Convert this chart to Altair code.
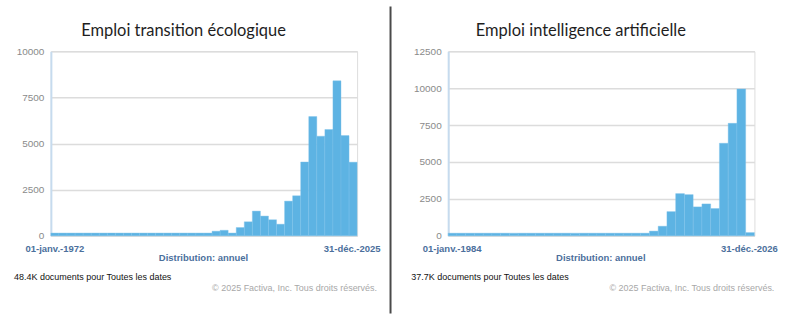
import altair as alt
import pandas as pd

# ---- data ----
left_title = "Emploi transition écologique"
left_values = [150] * 20 + [250, 300, 150, 450, 760, 1340, 1070, 870, 630, 1880,
                            2170, 4000, 6460, 5400, 5760, 8400, 5430, 3990]
left_start = "01-janv.-1972"
left_end = "31-déc.-2025"
left_total = "48.4K documents pour Toutes les dates"
left_ticks = [0, 2500, 5000, 7500, 10000]

right_title = "Emploi intelligence artificielle"
right_values = [180] * 23 + [320, 650, 1640, 2860, 2790, 1960, 2160, 1850,
                             6270, 7620, 9950, 220]
right_start = "01-janv.-1984"
right_end = "31-déc.-2026"
right_total = "37.7K documents pour Toutes les dates"
right_ticks = [0, 2500, 5000, 7500, 10000, 12500]

dist_label = "Distribution: annuel"
copyright_text = "© 2025 Factiva, Inc. Tous droits réservés."

BAR = "#5db3e3"
BLUE_TXT = "#4b6f9c"
W, H = 307, 185


def panel(values, ticks, title, start, end, total, anchor=False):
    n = len(values)
    df = pd.DataFrame({"i": list(range(n)), "v": values})
    df["i2"] = df["i"] + 1
    base = alt.Chart(df)
    bars = base.mark_rect(color=BAR, stroke="#7ec3ea", strokeWidth=0.4).encode(
        x=alt.X("i:Q", scale=alt.Scale(domain=[0, n], nice=False, zero=False), axis=None),
        x2="i2:Q",
        y=alt.Y("v:Q",
                scale=alt.Scale(domain=[0, ticks[-1]], nice=False),
                axis=alt.Axis(values=ticks, title=None, grid=True, gridColor="#dcdcdc",
                              gridWidth=1.5, domainColor="#c6dbee", domainWidth=2,
                              ticks=False, labelColor="#8a8a8a", labelFontSize=10,
                              labelFont="Liberation Sans", labelPadding=7, format="d")),
        y2=alt.datum(0),
    )

    def txt(t, x, y, size, color, weight="normal", align="center", font="Liberation Sans"):
        return alt.Chart(pd.DataFrame({"t": [t]})).mark_text(
            align=align, baseline="middle", fontSize=size, color=color,
            fontWeight=weight, font=font,
        ).encode(text="t:N", x=alt.value(x), y=alt.value(y))

    layers = []
    if anchor:
        layers.append(alt.Chart(pd.DataFrame({"a": [0]})).mark_rect(
            fill="white", opacity=0).encode(
            x=alt.value(-50), x2=alt.value(750), y=alt.value(-50), y2=alt.value(271)))
    layers += [
        bars,
        txt(title, 133, -20, 16.5, "#1e1e1e", font="Lato"),
        txt(start, 4, 198, 9.5, BLUE_TXT, "bold"),
        txt(end, 302, 198, 9.5, BLUE_TXT, "bold"),
        txt(dist_label, 153, 207, 9.5, BLUE_TXT, "bold"),
        txt(total, -37, 226, 9, "#111111", align="left"),
        txt(copyright_text, 327, 237, 9, "#a8a8a8", align="right"),
    ]
    if anchor:
        layers.append(alt.Chart(pd.DataFrame({"a": [0]})).mark_rule(
            color="#4a4a4a", strokeWidth=2).encode(
            x=alt.value(340.5), x2=alt.value(340.5), y=alt.value(-45), y2=alt.value(263)))
    return alt.layer(*layers).properties(width=W, height=H)


left = panel(left_values, left_ticks, left_title, left_start, left_end, left_total, True)
right = panel(right_values, right_ticks, right_title, right_start, right_end, right_total)

chart = alt.hconcat(left, right, spacing=91.3, bounds="flush", padding=0).configure_view(
    stroke=None
).configure(background="white")

chart.save("out.html", embed_options={"renderer": "svg", "actions": False})
